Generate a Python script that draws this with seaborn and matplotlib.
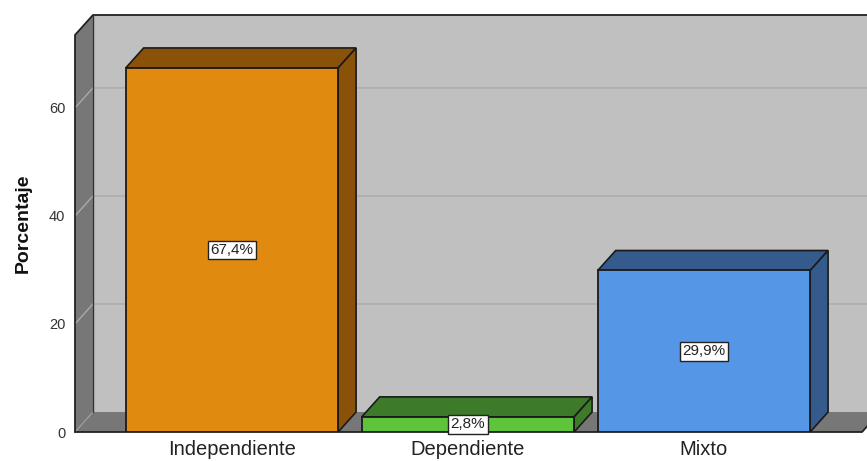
import pandas as pd
import matplotlib.pyplot as plt
import seaborn as sns
from matplotlib.patches import Polygon, Rectangle

# datos
categorias = ["Independiente", "Dependiente", "Mixto"]
porcentajes = [67.4, 2.8, 29.9]
etiquetas = ["67,4%", "2,8%", "29,9%"]
ticks_y = [0, 20, 40, 60]

color_frente = ["#e08b10", "#5ec43c", "#5596e6"]
color_lado = ["#8a5208", "#3d7a2a", "#345b8c"]

df = pd.DataFrame({"Tipo": categorias, "Porcentaje": porcentajes})

sns.set_theme(style="white")
plt.rcParams['font.family'] = ['Liberation Sans', 'DejaVu Sans']

W, H = 867, 461
fig = plt.figure(figsize=(W / 100, H / 100), dpi=100)

# geometria de la caja 3D (unidades de datos)
x0, x1 = -0.665, 2.67
dx, dy = 0.076, 3.7
ytop = 73.5

# ejes: desde el borde frontal izquierdo hasta el fondo
px_left, px_bottom, px_top = 75, 432, 15
px_unit_x = 236
px_right = px_left + (x1 + dx - x0) * px_unit_x
ax = fig.add_axes([px_left / W, (H - px_bottom) / H,
                   (px_right - px_left) / W, (px_bottom - px_top) / H])

# barras frontales
sns.barplot(data=df, x="Tipo", y="Porcentaje", hue="Tipo", palette=color_frente,
            saturation=1, width=0.9, edgecolor="#1a1a1a", linewidth=1.3,
            legend=False, ax=ax, zorder=2)
barras = sorted([b for c in ax.containers for b in c], key=lambda b: b.get_x())
ax.set_xlim(x0, x1 + dx)
ax.set_ylim(0, ytop + dy)

# paredes
ax.add_patch(Rectangle((x0 + dx, dy), x1 - x0, ytop, facecolor="#c0c0c0",
                       edgecolor="none", zorder=0))
ax.add_patch(Polygon([(x0, 0), (x1, 0), (x1 + dx, dy), (x0 + dx, dy)],
                     closed=True, facecolor="#777777", edgecolor="none", zorder=0.5))
ax.add_patch(Polygon([(x0, 0), (x0 + dx, dy), (x0 + dx, ytop + dy), (x0, ytop)],
                     closed=True, facecolor="#777777", edgecolor="none", zorder=0.5))
# bordes de las paredes
ax.plot([x0, x0, x0 + dx, x1 + dx + 1], [0, ytop, ytop + dy, ytop + dy],
        color="#222222", lw=1.3, zorder=0.8, clip_on=False)
ax.plot([x0 + dx, x0 + dx], [dy, ytop + dy], color="#333333", lw=1.0, zorder=0.8)
ax.plot([x0, x1, x1 + dx], [0, 0, dy], color="#222222", lw=1.3, zorder=0.8, clip_on=False)
ax.plot([x0, x0 + dx], [0, dy], color="#a0a0a0", lw=0.8, zorder=0.7)

# lineas de cuadricula en pared lateral y fondo
for v in ticks_y[1:]:
    ax.plot([x0, x0 + dx, x1 + dx + 1], [v, v + dy, v + dy],
            color="#aaaaaa", lw=1.0, zorder=0.6)

# caras superior y lateral de cada barra
for i, p in enumerate(barras):
    bx, bw, bh = p.get_x(), p.get_width(), p.get_height()
    top = [(bx, bh), (bx + dx, bh + dy), (bx + bw + dx, bh + dy), (bx + bw, bh)]
    side = [(bx + bw, 0), (bx + bw + dx, dy), (bx + bw + dx, bh + dy), (bx + bw, bh)]
    for poly in (top, side):
        ax.add_patch(Polygon(poly, closed=True, facecolor=color_lado[i],
                             edgecolor="#1a1a1a", linewidth=1.2, zorder=1.9))
    ax.text(bx + bw / 2, bh / 2, etiquetas[i], ha="center", va="center",
            fontsize=11, color="#222222", zorder=3,
            bbox=dict(boxstyle="square,pad=0.16", facecolor="white",
                      edgecolor="#222222", linewidth=1.0))

for s in ax.spines.values():
    s.set_visible(False)

ax.set_yticks(ticks_y)
ax.set_yticklabels([str(t) for t in ticks_y], fontsize=10.5, color="#333333")
ax.set_xticks(range(len(categorias)))
ax.set_xticklabels(categorias, fontsize=14.5, color="#222222")
ax.tick_params(axis="both", length=0)
ax.tick_params(axis="y", pad=7)
ax.tick_params(axis="x", pad=6)
ax.set_xlabel("")
ax.set_ylabel("Porcentaje", fontsize=14, fontweight="bold", color="#111111",
              labelpad=12)

fig.savefig("out.png", dpi=100)
